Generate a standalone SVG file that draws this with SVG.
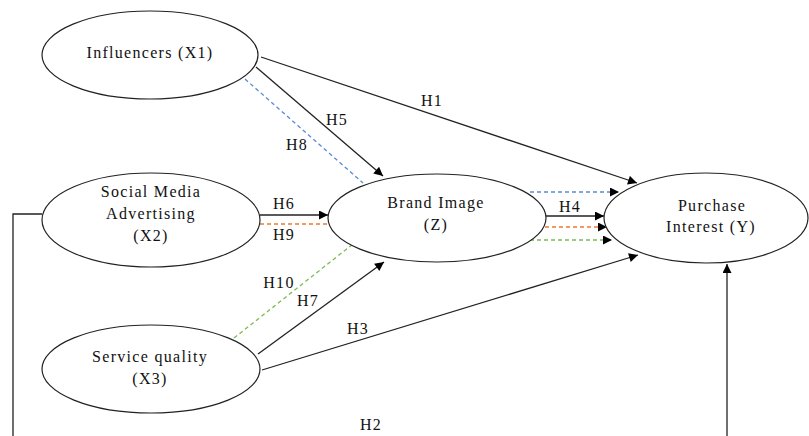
<svg xmlns="http://www.w3.org/2000/svg" width="809" height="436" viewBox="0 0 809 436">
<defs>
<marker id="ah" viewBox="0 0 10 10" refX="10" refY="5" markerWidth="10" markerHeight="9" markerUnits="userSpaceOnUse" orient="auto">
<path d="M0,0 L10,5 L0,10 Z" fill="#000"/>
</marker>
</defs>
<style>
.node ellipse{fill:#fff;stroke:#222;stroke-width:1.2}
text{font-family:"Liberation Serif","Times New Roman",serif;font-size:16px;fill:#111;letter-spacing:1.3px}
.c{text-anchor:middle}
.ln{fill:none;stroke:#222;stroke-width:1.3}
.ar{marker-end:url(#ah)}
.db{fill:none;stroke:#5b8ad8;stroke-width:1.3;stroke-dasharray:4 3}
.do{fill:none;stroke:#f07a30;stroke-width:1.3;stroke-dasharray:4 3}
.dg{fill:none;stroke:#7cbb55;stroke-width:1.3;stroke-dasharray:4 3}
</style>
<rect width="809" height="436" fill="#fff"/>
<g id="connectors">
<line class="ln ar" x1="261" y1="57" x2="637" y2="183"/>
<line class="ln ar" x1="256" y1="67" x2="383" y2="176"/>
<line class="db" x1="245" y1="79" x2="363" y2="183"/>
<line class="ln ar" x1="260" y1="215" x2="328" y2="215"/>
<line class="do" x1="260" y1="224" x2="329" y2="224"/>
<line class="dg" x1="234" y1="338" x2="353" y2="244"/>
<line class="ln ar" x1="258" y1="354" x2="384" y2="262"/>
<line class="ln ar" x1="262" y1="370" x2="638" y2="255"/>
<line class="ln ar" x1="546" y1="216" x2="604" y2="216"/>
<line class="db ar" x1="530" y1="192" x2="619" y2="192"/>
<line class="do ar" x1="545" y1="227" x2="607" y2="227"/>
<line class="dg ar" x1="530" y1="240" x2="612" y2="240"/>
<polyline class="ln" points="42,214 13,214 13,436"/>
<line class="ln ar" x1="727" y1="436" x2="727" y2="264"/>
<text x="432" y="106" class="c">H1</text>
<text x="337" y="125" class="c">H5</text>
<text x="297" y="150" class="c">H8</text>
<text x="284" y="209" class="c">H6</text>
<text x="284" y="240" class="c">H9</text>
<text x="279" y="288" class="c">H10</text>
<text x="308" y="306" class="c">H7</text>
<text x="358" y="334" class="c">H3</text>
<text x="570" y="212" class="c">H4</text>
<text x="371" y="430" class="c">H2</text>
</g>
<g id="influencers" class="node">
<ellipse cx="150" cy="55" rx="108" ry="44"/>
<text x="150" y="58" class="c">Influencers (X1)</text>
</g>
<g id="social-media" class="node">
<ellipse cx="151" cy="220" rx="109" ry="47"/>
<text x="151" y="197" class="c">Social Media</text>
<text x="151" y="219" class="c">Advertising</text>
<text x="151" y="241" class="c">(X2)</text>
</g>
<g id="service-quality" class="node">
<ellipse cx="151" cy="369" rx="109" ry="44"/>
<text x="150" y="362" class="c">Service quality</text>
<text x="150" y="384" class="c">(X3)</text>
</g>
<g id="brand-image" class="node">
<ellipse cx="437" cy="218" rx="109" ry="44"/>
<text x="436" y="208" class="c">Brand Image</text>
<text x="436" y="230" class="c">(Z)</text>
</g>
<g id="purchase-interest" class="node">
<ellipse cx="706" cy="218" rx="102" ry="45"/>
<text x="712" y="211" class="c">Purchase</text>
<text x="711" y="232" class="c">Interest (Y)</text>
</g>
</svg>
